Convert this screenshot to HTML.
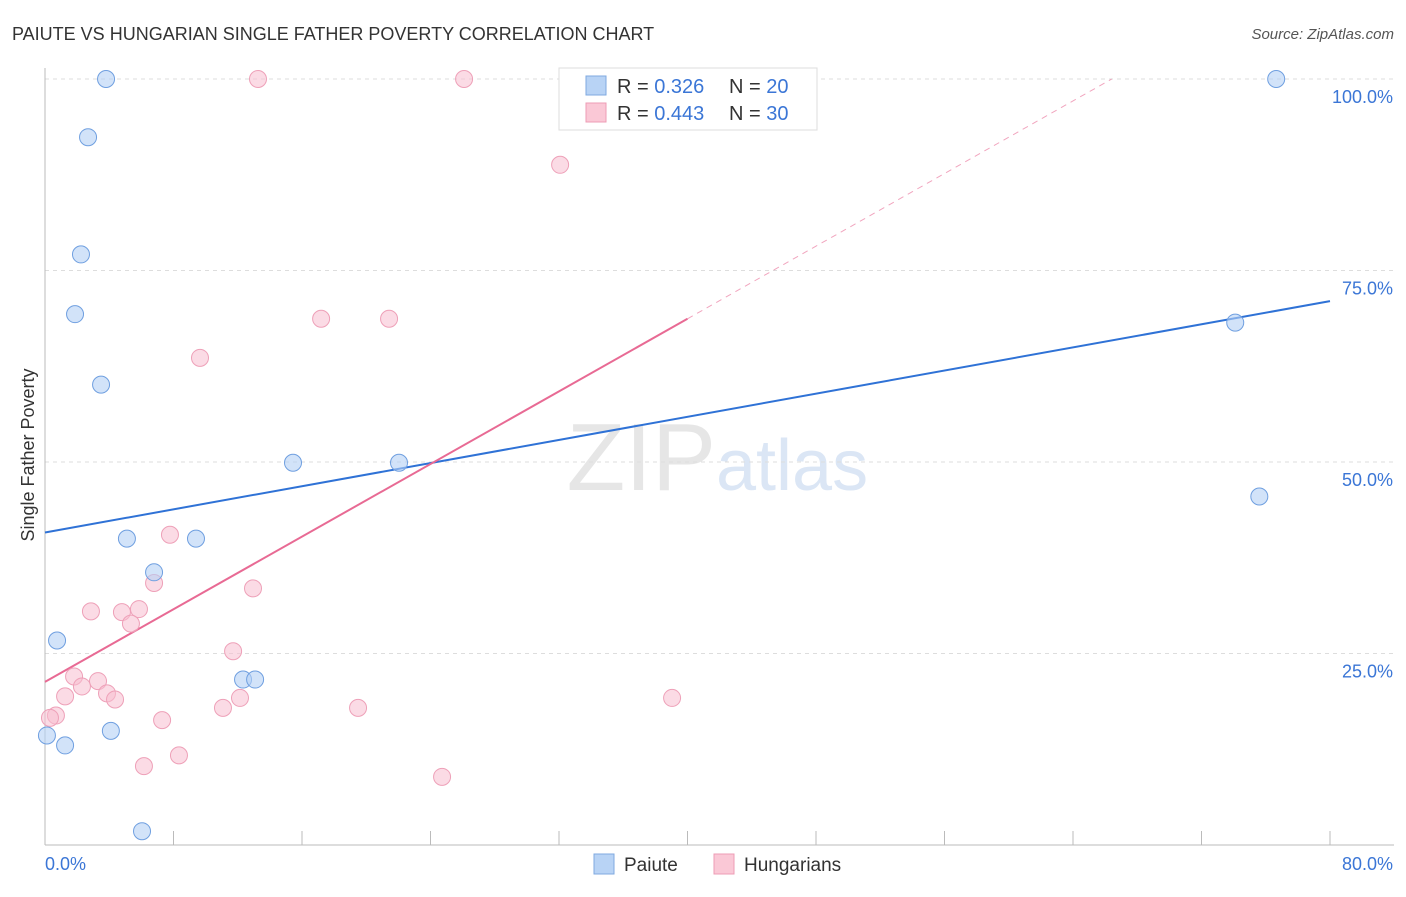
<!DOCTYPE html>
<html><head><meta charset="utf-8"><style>
body{margin:0;background:#fff;font-family:"Liberation Sans",sans-serif;}
svg text{font-family:"Liberation Sans",sans-serif;}
</style></head><body>
<svg width="1406" height="892" viewBox="0 0 1406 892" id="chart">
<text x="12" y="40" font-size="18" fill="#333">PAIUTE VS HUNGARIAN SINGLE FATHER POVERTY CORRELATION CHART</text>
<text x="1394" y="39" font-size="15" fill="#555" font-style="italic" text-anchor="end">Source: ZipAtlas.com</text>
<text x="716" y="490" font-size="96" fill="#e6e6e6" text-anchor="end" font-family="Liberation Serif">ZIP</text>
<text x="716" y="490" font-size="72" fill="#dbe6f5">atlas</text>
<g id="grid"></g>
<g id="axes"></g>
<g id="lines"></g>
<g id="points"></g>
<text x="34" y="455" font-size="18" fill="#333" text-anchor="middle" transform="rotate(-90 34 455)">Single Father Poverty</text>
<g>
<rect x="559" y="68" width="258" height="62" fill="#fff" stroke="#ddd"/>
<rect x="586" y="76" width="20" height="19" fill="#b8d3f5" stroke="#7fa9e0"/>
<rect x="586" y="103" width="20" height="19" fill="#fac8d6" stroke="#ee9cb5"/>
<text x="617" y="93" font-size="20" fill="#333">R = <tspan fill="#3b76d6">0.326</tspan><tspan x="729">N = </tspan><tspan fill="#3b76d6">20</tspan></text>
<text x="617" y="120" font-size="20" fill="#333">R = <tspan fill="#3b76d6">0.443</tspan><tspan x="729">N = </tspan><tspan fill="#3b76d6">30</tspan></text>
</g>
<g>
<rect x="594" y="854" width="20" height="20" fill="#b8d3f5" stroke="#7fa9e0"/>
<text x="624" y="871" font-size="19" fill="#333">Paiute</text>
<rect x="714" y="854" width="20" height="20" fill="#fac8d6" stroke="#ee9cb5"/>
<text x="744" y="871" font-size="19" fill="#333">Hungarians</text>
</g>
</svg>
<script>
const xTicksPct=[0,8,16,24,32,40,48,56,64,72,80];
const yTicks=[25,50,75,100];
const yTickLabels=["25.0%","50.0%","75.0%","100.0%"];
const paiuteX=[3.8,2.68,2.24,1.87,3.49,15.44,22.04,5.1,9.4,6.79,0.75,12.33,13.08,0.12,1.25,4.1,6.04,74.1,75.6,76.65];
const paiuteY=[100,92.4,77.1,69.3,60.1,49.9,49.9,40,40,35.6,26.7,21.6,21.6,14.3,13.0,14.9,1.8,68.2,45.5,100];
const hungX=[13.26,26.09,32.07,9.65,17.19,21.42,7.78,6.79,12.95,2.86,4.79,5.85,5.35,11.71,1.81,3.3,2.3,1.25,3.86,4.36,12.14,11.08,19.49,39.04,7.29,0.68,0.31,8.34,6.16,24.72];
const hungY=[100,100,88.8,63.6,68.7,68.7,40.5,34.2,33.5,30.5,30.4,30.8,28.9,25.3,22.0,21.4,20.7,19.4,19.8,19.0,19.2,17.9,17.9,19.2,16.3,16.9,16.6,11.7,10.3,8.9];
const blueTrend=[40.8,71.0];
const pinkTrend=[21.3,68.7];
const NS='http://www.w3.org/2000/svg';
const X=v=>45+v*(1285/80);
const Y=v=>845-v*7.66;
function mk(tag,attrs,parent){const e=document.createElementNS(NS,tag);for(const k in attrs)e.setAttribute(k,attrs[k]);document.getElementById(parent).appendChild(e);return e;}
yTicks.forEach((t,i)=>{
 const g=mk('line',{x1:45,x2:1394,y1:Y(t),y2:Y(t),stroke:'#ddd','stroke-dasharray':'4,4'},'grid');
 
 
 const l=mk('text',{x:1393,y:Y(t)+24,'font-size':18,fill:'#3b76d6','text-anchor':'end'},'axes');
 l.textContent=yTickLabels[i];
 
 
});
const ax=mk('line',{x1:45,x2:1394,y1:845,y2:845,stroke:'#bbb'},'axes');


const ay=mk('line',{x1:45,x2:45,y1:68,y2:845,stroke:'#bbb'},'axes');


xTicksPct.forEach(t=>{
 const tk=mk('line',{x1:X(t),x2:X(t),y1:831,y2:845,stroke:'#bbb'},'axes');
 
 
});
const x0=mk('text',{x:45,y:870,'font-size':18,fill:'#3b76d6'},'axes');x0.textContent='0.0%';


const x1=mk('text',{x:1393,y:870,'font-size':18,fill:'#3b76d6','text-anchor':'end'},'axes');x1.textContent='80.0%';


const bl=mk('line',{x1:X(0),y1:Y(blueTrend[0]),x2:X(80),y2:Y(blueTrend[1]),stroke:'#2f72d6','stroke-width':2},'lines');


const slope=(pinkTrend[1]-pinkTrend[0])/40;
const xe=(100-pinkTrend[0])/slope;
const pd=mk('line',{x1:X(40),y1:Y(pinkTrend[1]),x2:X(xe),y2:Y(100),stroke:'#e86a94','stroke-width':1,'stroke-dasharray':'6,5',opacity:0.6},'lines');


const pl=mk('line',{x1:X(0),y1:Y(pinkTrend[0]),x2:X(40),y2:Y(pinkTrend[1]),stroke:'#e86a94','stroke-width':2},'lines');


hungX.forEach((v,i)=>{
 const c=mk('circle',{cx:X(v),cy:Y(hungY[i]),r:8.5,fill:'rgba(248,190,208,0.55)',stroke:'#eea0b8','stroke-width':1},'points');
 
 
});
paiuteX.forEach((v,i)=>{
 const c=mk('circle',{cx:X(v),cy:Y(paiuteY[i]),r:8.5,fill:'rgba(180,208,245,0.6)',stroke:'#6f9fe0','stroke-width':1},'points');
 
 
});
</script>
</body></html>
